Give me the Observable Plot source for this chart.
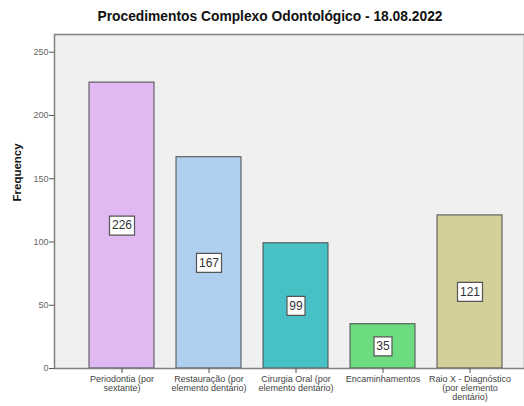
<!DOCTYPE html>
<html><head><meta charset="utf-8">
<script src="https://cdn.jsdelivr.net/npm/d3@7"></script>
<script src="https://cdn.jsdelivr.net/npm/@observablehq/plot@0.6"></script>
<style>
body{margin:0;background:#fff;font-family:"Liberation Sans",Arial,sans-serif;}
#title{position:relative;height:26px;width:524px;}
#title span{position:absolute;left:270px;top:10px;transform:translateX(-50%);font-weight:bold;font-size:13.8px;line-height:14px;color:#111;white-space:nowrap;}
</style></head>
<body>
<div id="title"><span>Procedimentos Complexo Odontológico - 18.08.2022</span></div>
<div id="chart"></div>
<script>
const categories = ["Periodontia (por\nsextante)", "Restauração (por\nelemento dentário)", "Cirurgia Oral (por\nelemento dentário)", "Encaminhamentos", "Raio X - Diagnóstico\n(por elemento\ndentário)"];
const frequencies = [226, 167, 99, 35, 121];
const colors = ["#e0b9f2", "#aed0ee", "#47c1c6", "#6ddc80", "#d3cf98"];
const yTicks = [0, 50, 100, 150, 200, 250];

const data = categories.map((c, i) => ({cat: c, value: frequencies[i], color: colors[i], label: String(frequencies[i])}));

function boxSymbol(w, h) {
  return {draw(ctx) { ctx.rect(-w / 2, -h / 2, w, h); }};
}
const lens = [...new Set(data.map(d => d.label.length))];

const plot = Plot.plot({
  width: 524,
  height: 380,
  marginTop: 8,
  marginBottom: 38,
  marginLeft: 54,
  marginRight: 0,
  style: {fontFamily: "'Liberation Sans', Arial, sans-serif", background: "transparent"},
  x: {domain: categories, range: [54, 537], paddingInner: 0.253, paddingOuter: 0.402},
  y: {domain: [0, 264]},
  marks: [
    Plot.frame({fill: "#f0f0f0", stroke: "none"}),
    Plot.barY(data, {x: "cat", y: "value", fill: "color", stroke: "#4a4a4a", strokeWidth: 1}),
    ...lens.map(n => Plot.dot(data.filter(d => d.label.length === n), {
      x: "cat", y: d => d.value / 2,
      symbol: boxSymbol(n === 3 ? 25 : 18, 19),
      r: 1, fill: "#fff", stroke: "#555", strokeWidth: 1.2
    })),
    Plot.text(data, {x: "cat", y: d => d.value / 2, text: "label", fill: "#333", fontSize: 12}),
    Plot.frame({stroke: "#808080", strokeWidth: 1.5, fill: "none"}),
    Plot.axisY({ticks: yTicks, tickSize: 5, tickPadding: 1, fontSize: 9, color: "#666", stroke: "#555", label: null}),
    Plot.axisX({tickSize: 5, tickPadding: 2, fontSize: 9, color: "#444", stroke: "#555", label: null, lineHeight: 1.0}),
    Plot.text(["Frequency"], {frameAnchor: "left", dx: -37, rotate: -90, fontWeight: "bold", fontSize: 11.5, fill: "#111"})
  ]
});
document.getElementById("chart").appendChild(plot);
</script>
</body></html>
